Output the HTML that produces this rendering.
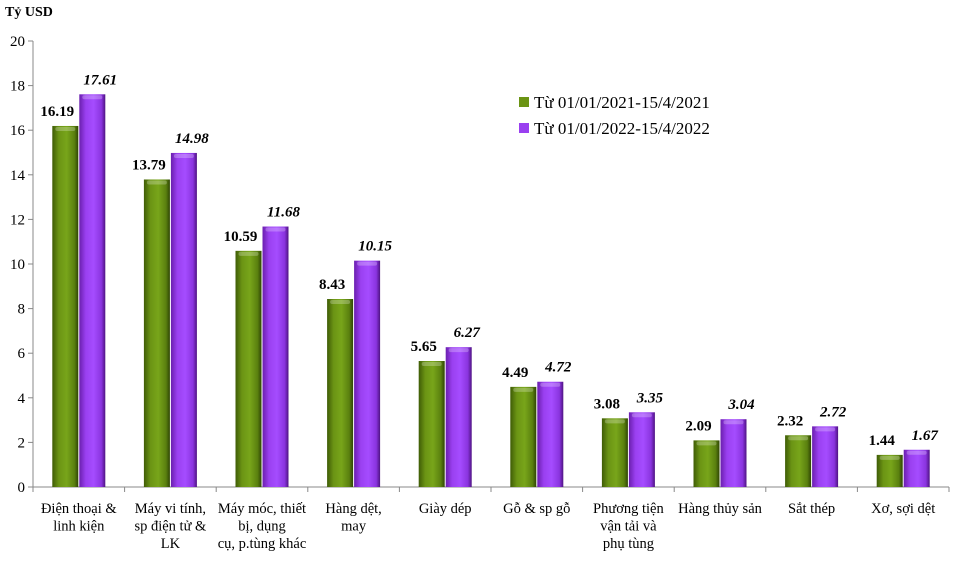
<!DOCTYPE html>
<html><head><meta charset="utf-8"><style>
body{margin:0;background:#fff;}
svg{font-family:"Liberation Serif",serif;}
</style></head><body>
<svg id="c" width="954" height="558" viewBox="0 0 954 558">
<defs>
<linearGradient id="gg" x1="0" x2="1" y1="0" y2="0">
<stop offset="0" stop-color="#3f5c06"/><stop offset="0.25" stop-color="#6b9414"/><stop offset="0.55" stop-color="#78a51a"/><stop offset="0.85" stop-color="#5a800f"/><stop offset="1" stop-color="#2f4504"/></linearGradient>
<linearGradient id="pg" x1="0" x2="1" y1="0" y2="0">
<stop offset="0" stop-color="#6a1fae"/><stop offset="0.25" stop-color="#9a40f0"/><stop offset="0.55" stop-color="#a54cff"/><stop offset="0.85" stop-color="#8a34df"/><stop offset="1" stop-color="#4f1382"/></linearGradient>
</defs>
<text x="5" y="16" font-size="14" font-weight="bold">Tỷ USD</text>
<g id="axes"></g><g id="bars"></g>
<g>
<rect x="519" y="97" width="10" height="10" fill="#6b9414"/>
<text x="534" y="108" font-size="17">Từ 01/01/2021-15/4/2021</text>
<rect x="519" y="123" width="10" height="10" fill="#9a40f0"/>
<text x="534" y="134" font-size="17">Từ 01/01/2022-15/4/2022</text>
</g>
</svg>
<script>
const categories=[["Điện thoại &","linh kiện"],["Máy vi tính,","sp điện tử &","LK"],["Máy móc, thiết","bị, dụng","cụ, p.tùng khác"],["Hàng dệt,","may"],["Giày dép"],["Gỗ & sp gỗ"],["Phương tiện","vận tải và","phụ tùng"],["Hàng thủy sản"],["Sắt thép"],["Xơ, sợi dệt"]];
const series2021=[16.19,13.79,10.59,8.43,5.65,4.49,3.08,2.09,2.32,1.44];
const series2022=[17.61,14.98,11.68,10.15,6.27,4.72,3.35,3.04,2.72,1.67];
const yTicks=[0,2,4,6,8,10,12,14,16,18,20];
const NS="http://www.w3.org/2000/svg";
const x0=33,y0=487,yTop=41,step=91.6,bw=26;
const y=v=>y0-(y0-yTop)*v/20;
function mk(t,a,p){const e=document.createElementNS(NS,t);for(const k in a)e.setAttribute(k,a[k]);p.appendChild(e);return e;}
const ax=document.getElementById('axes'),bars=document.getElementById('bars');
let e=mk('line',{x1:x0,x2:x0,y1:yTop,y2:y0,stroke:'#888'},ax);


e=mk('line',{x1:x0,x2:x0+step*10,y1:y0,y2:y0,stroke:'#888'},ax);


yTicks.forEach(v=>{mk('line',{x1:x0-5,x2:x0,y1:y(v),y2:y(v),stroke:'#888'},ax);
const t=mk('text',{x:x0-8,y:y(v)+5,'font-size':15,'text-anchor':'end'},ax);t.textContent=v;

});
for(let i=0;i<=10;i++)mk('line',{x1:x0+i*step,x2:x0+i*step,y1:y0,y2:y0+5,stroke:'#888'},ax);
categories.forEach((c,i)=>{const cx=x0+step*(i+0.5);
c.forEach((l,j)=>{const t=mk('text',{x:cx,y:513+j*17.5,'font-size':14.5,'text-anchor':'middle'},ax);t.textContent=l;

});
[[series2021,'gg',-bw-0.5,'normal','2021'],[series2022,'pg',0.5,'italic','2022']].forEach(([s,g,off,st,n])=>{
const v=s[i],bx=cx+off;
const r=mk('rect',{x:bx,y:y(v),width:bw,height:y0-y(v),fill:'url(#'+g+')'},bars);


mk('rect',{x:bx+3,y:y(v)+1,width:bw-6,height:4,rx:2,fill:'#fff',opacity:0.25},bars);
const t=mk('text',{x:bx+bw/2+(n=='2021'?-8:8),y:y(v)-10,'font-size':15,'font-weight':'bold','font-style':st,'text-anchor':'middle'},bars);
t.textContent=v.toFixed(2);

});});
</script>
</body></html>
